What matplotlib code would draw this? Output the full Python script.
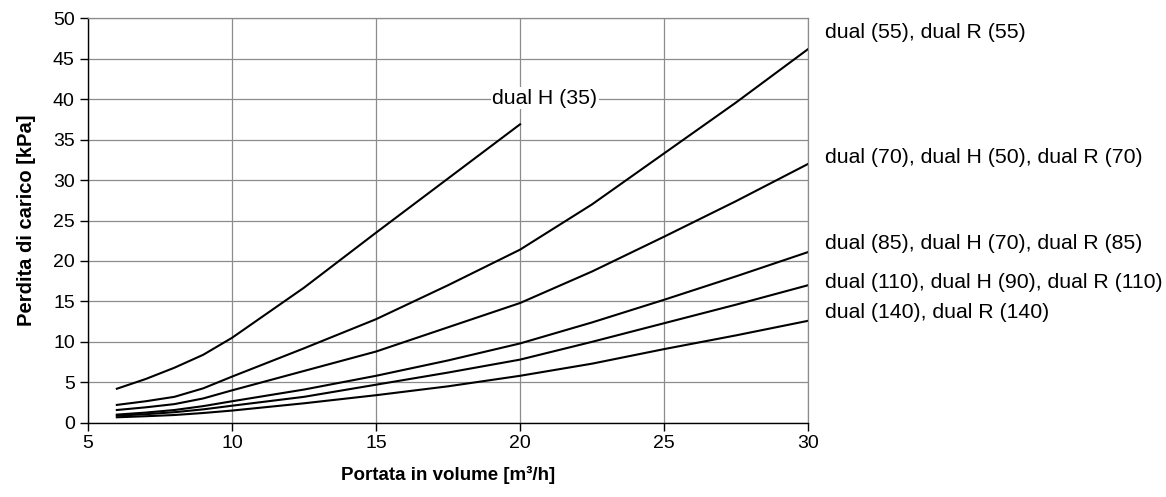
import matplotlib
matplotlib.use("Agg")
import matplotlib.pyplot as plt

plt.rcParams['font.family'] = ['Liberation Sans', 'DejaVu Sans']

# Flow rate [m3/h]
x_full = [6, 7, 8, 9, 10, 12.5, 15, 17.5, 20, 22.5, 25, 27.5, 30]
x_h35 = [6, 7, 8, 9, 10, 12.5, 15, 17.5, 20]

# Pressure drop [kPa]
dual_h35 = [4.2, 5.4, 6.8, 8.4, 10.5, 16.7, 23.5, 30.2, 36.9]
dual_55 = [2.2, 2.65, 3.2, 4.25, 5.7, 9.2, 12.8, 17.0, 21.4, 27.0, 33.3, 39.6, 46.2]
dual_70 = [1.57, 1.9, 2.3, 3.0, 4.0, 6.4, 8.8, 11.8, 14.8, 18.7, 23.0, 27.4, 32.0]
dual_85 = [1.0, 1.25, 1.57, 2.05, 2.65, 4.1, 5.8, 7.7, 9.8, 12.4, 15.2, 18.1, 21.1]
dual_110 = [0.87, 1.05, 1.3, 1.65, 2.1, 3.2, 4.7, 6.2, 7.8, 10.0, 12.3, 14.6, 17.0]
dual_140 = [0.67, 0.8, 0.95, 1.2, 1.5, 2.4, 3.4, 4.5, 5.8, 7.3, 9.1, 10.8, 12.6]

series = [dual_55, dual_70, dual_85, dual_110, dual_140]
right_labels = [
    "dual (55), dual R (55)",
    "dual (70), dual H (50), dual R (70)",
    "dual (85), dual H (70), dual R (85)",
    "dual (110), dual H (90), dual R (110)",
    "dual (140), dual R (140)",
]
label_y = [48.3, 32.8, 22.2, 17.3, 13.6]

fig = plt.figure(figsize=(11.66, 4.97), dpi=100)
ax = fig.add_axes([0.0755, 0.1495, 0.6175, 0.8135])

ax.plot(x_h35, dual_h35, color='black', lw=1.5)
for ys in series:
    ax.plot(x_full, ys, color='black', lw=1.5)

ax.set_xlim(5, 30)
ax.set_ylim(0, 50)
ax.set_xticks(range(5, 31, 5))
ax.set_yticks(range(0, 51, 5))
ax.grid(True, color='#8c8c8c', lw=0.9)
ax.set_axisbelow(True)

for s in ['top', 'right']:
    ax.spines[s].set_color('#8c8c8c')
    ax.spines[s].set_linewidth(0.9)
for s in ['left', 'bottom']:
    ax.spines[s].set_color('black')
    ax.spines[s].set_linewidth(1.0)
ax.tick_params(direction='out', length=6, width=1, labelsize=14, colors='black')
ax.tick_params(axis='x', pad=3)

ax.set_xlabel("Portata in volume [m³/h]", fontsize=13.5, fontweight='bold', va='center')
ax.xaxis.set_label_coords(0.5, -0.129)
ax.set_ylabel("Perdita di carico [kPa]", fontsize=14.5, fontweight='bold', labelpad=12)

ax.text(19.03, 40.1, "dual H (35)", fontsize=15.3, va='center', ha='left',
        bbox=dict(facecolor='white', edgecolor='none', pad=1))

for lab, yy in zip(right_labels, label_y):
    ax.text(30.6, yy, lab, fontsize=15.3, va='center', ha='left', clip_on=False)

fig.savefig("out.png", dpi=100)
